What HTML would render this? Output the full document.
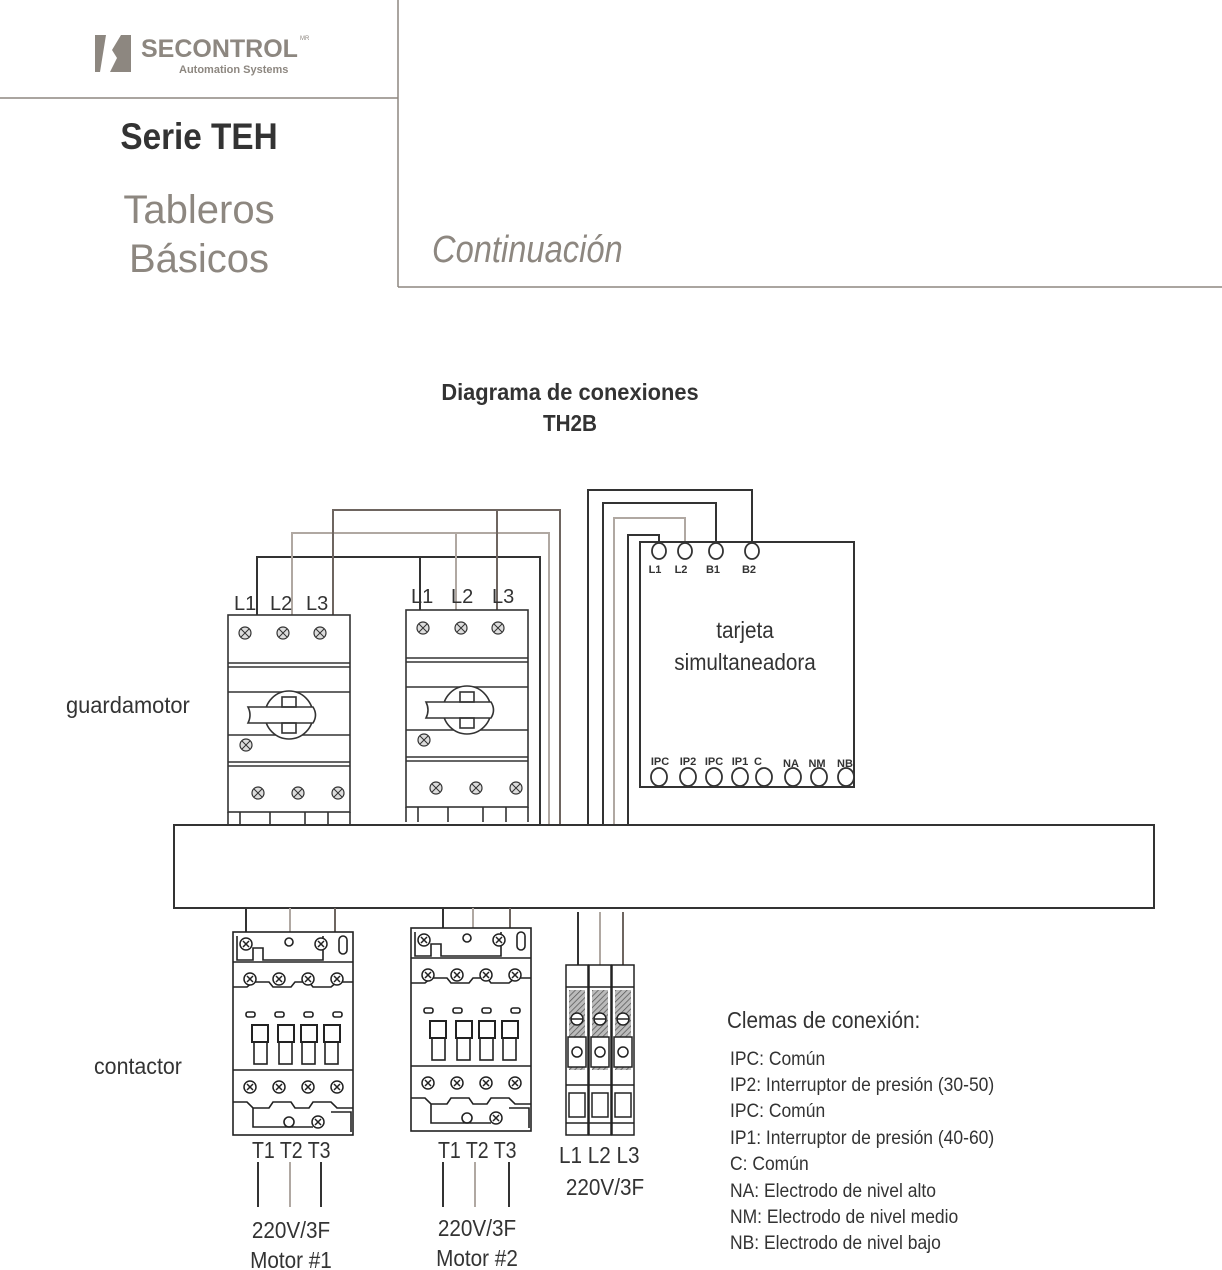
<!DOCTYPE html>
<html><head><meta charset="utf-8"><style>
html,body{margin:0;padding:0;background:#fff;}
svg{display:block;font-family:"Liberation Sans",sans-serif;}
</style></head><body>
<svg width="1222" height="1270" viewBox="0 0 1222 1270" xmlns="http://www.w3.org/2000/svg">
<defs>
<g id="scr"><circle r="6" fill="#ddd" stroke="#333" stroke-width="1.2"/><path d="M-4,-4L4,4M4,-4L-4,4" stroke="#333" stroke-width="1"/></g>
<g id="cscr"><circle r="6" fill="#fff" stroke="#222" stroke-width="1.5"/><path d="M-3,-3L3,3M3,-3L-3,3" stroke="#222" stroke-width="1.5"/></g>
<g id="gm" fill="none" stroke="#333" stroke-width="1.6">
<rect x="0" y="0" width="122" height="197" fill="#fff"/>
<path d="M0,48H122M0,52H122M0,77H122M0,120H122M0,147H122M0,151H122"/>
<path d="M0,197V212M122,197V212M12,197V212M42,197V212M77,197V212M100,197V212"/>
<circle cx="61" cy="100" r="24" fill="#fff"/>
<path d="M20,92H85Q90,100 85,108H20Q24,100 20,92Z" fill="#fff"/>
<rect x="54" y="82" width="14" height="10"/><rect x="54" y="108" width="14" height="10"/>
<use href="#scr" x="17" y="18"/><use href="#scr" x="55" y="18"/><use href="#scr" x="92" y="18"/>
<use href="#scr" x="30" y="178"/><use href="#scr" x="70" y="178"/><use href="#scr" x="110" y="178"/>
<use href="#scr" x="18" y="130"/>
</g>
<g id="ct" fill="none" stroke="#222" stroke-width="1.6">
<rect x="0" y="0" width="120" height="203" fill="#fff"/>
<path d="M4,4V28H20V16H30V28H90V4M0,30H120M0,55H14L20,50H36L40,55H58L62,50H76L80,55H98L104,50H120"/>
<use href="#cscr" x="13" y="12"/><use href="#cscr" x="88" y="12"/>
<circle cx="56" cy="10" r="4"/><rect x="106" y="4" width="8" height="18" rx="4"/>
<use href="#cscr" x="17" y="47"/><use href="#cscr" x="46" y="47"/><use href="#cscr" x="75" y="47"/><use href="#cscr" x="104" y="47"/>
<rect x="13" y="80" width="9" height="5" rx="2"/><rect x="42" y="80" width="9" height="5" rx="2"/><rect x="71" y="80" width="9" height="5" rx="2"/><rect x="100" y="80" width="9" height="5" rx="2"/>
<g stroke-width="2"><rect x="19" y="93" width="16" height="17"/><rect x="45" y="93" width="16" height="17"/><rect x="68" y="93" width="16" height="17"/><rect x="91" y="93" width="16" height="17"/></g>
<rect x="21" y="110" width="13" height="22"/><rect x="46" y="110" width="13" height="22"/><rect x="69" y="110" width="13" height="22"/><rect x="92" y="110" width="13" height="22"/>
<path d="M0,138H120"/>
<use href="#cscr" x="17" y="155"/><use href="#cscr" x="46" y="155"/><use href="#cscr" x="75" y="155"/><use href="#cscr" x="104" y="155"/>
<path d="M0,170H14L20,176H36L40,170H58L62,176H76L80,170H98L104,176H120M20,176V195H80M98,180H118V200"/>
<circle cx="56" cy="190" r="5"/><use href="#cscr" x="85" y="190"/>
</g>
<pattern id="hatch" width="4" height="4" patternUnits="userSpaceOnUse" patternTransform="rotate(45)"><rect width="4" height="4" fill="#bbb"/><path d="M0,0V4" stroke="#555" stroke-width="1.5"/></pattern>
<g id="tb" fill="none" stroke="#222" stroke-width="1.5">
<rect x="0" y="0" width="22" height="170" fill="#fff"/>
<path d="M0,22H22M0,120H22M0,158H22"/>
<rect x="3" y="25" width="16" height="80" fill="url(#hatch)" stroke="none"/>
<circle cx="11" cy="54" r="6" fill="#fff"/><path d="M5,54H17"/>
<rect x="2" y="72" width="18" height="30" fill="#fff"/>
<circle cx="11" cy="87" r="5"/>
<rect x="3" y="128" width="16" height="24"/>
</g>
</defs>

<g stroke="#8d8780" stroke-width="1.5" fill="none"><path d="M398,0V287M0,98H398M398,287H1222"/></g>
<path d="M95,35H106L100,72H95Z" fill="#8d8780"/>
<path d="M110,35H131V72H110L117,58L112,50L121,35Z" fill="#8d8780"/>
<text x="141" y="57" font-size="25" font-weight="bold" fill="#8d8780">SECONTROL</text>
<text x="300" y="40" font-size="6" fill="#8d8780">MR</text>
<text x="179" y="73" font-size="11" fill="#8d8780" font-weight="bold">Automation Systems</text>
<text x="199" y="149" font-size="37" font-weight="bold" text-anchor="middle" fill="#333" transform="translate(199,0) scale(0.9,1) translate(-199,0)">Serie TEH</text>
<text x="199" y="223" font-size="40" text-anchor="middle" fill="#8d8780">Tableros</text>
<text x="199" y="272" font-size="40" text-anchor="middle" fill="#8d8780">Básicos</text>
<text x="432" y="262" font-size="38" font-style="italic" fill="#8d8780" transform="translate(432,0) scale(0.86,1) translate(-432,0)">Continuación</text>

<text x="570" y="400" font-size="23" font-weight="bold" text-anchor="middle" fill="#333" transform="translate(570,0) scale(0.95,1) translate(-570,0)">Diagrama de conexiones</text>
<text x="570" y="431" font-size="23" font-weight="bold" text-anchor="middle" fill="#333" transform="translate(570,0) scale(0.9,1) translate(-570,0)">TH2B</text>

<g fill="none" stroke-width="2">
<path d="M257,615V557H540V825M420,610V557" stroke="#333"/>
<path d="M292,615V533H549V825M456,610V533" stroke="#b0a8a2"/>
<path d="M333,615V510H560V825M497,610V510" stroke="#6e6560"/>
<path d="M588,825V490H752V545" stroke="#333"/>
<path d="M603,825V503H716V545" stroke="#333"/>
<path d="M614,825V518H685V545" stroke="#b0a8a2"/>
<path d="M628,825V535H659V545" stroke="#333"/>
</g>

<use href="#gm" x="228" y="615"/>
<use href="#gm" x="406" y="610"/>
<g font-size="20" fill="#333">
<text x="234" y="610">L1</text><text x="270" y="610">L2</text><text x="306" y="610">L3</text>
<text x="411" y="603">L1</text><text x="451" y="603">L2</text><text x="492" y="603">L3</text>
</g>
<text x="66" y="713" font-size="23" fill="#333" transform="translate(66,0) scale(0.95,1) translate(-66,0)">guardamotor</text>

<rect x="640" y="542" width="214" height="245" fill="#fff" stroke="#333" stroke-width="2"/>
<g fill="#fff" stroke="#333" stroke-width="1.8">
<ellipse cx="659" cy="551" rx="7" ry="8"/><ellipse cx="685" cy="551" rx="7" ry="8"/><ellipse cx="716" cy="551" rx="7" ry="8"/><ellipse cx="752" cy="551" rx="7" ry="8"/>
<ellipse cx="659" cy="777" rx="8" ry="9"/><ellipse cx="688" cy="777" rx="8" ry="9"/><ellipse cx="714" cy="777" rx="8" ry="9"/><ellipse cx="740" cy="777" rx="8" ry="9"/><ellipse cx="764" cy="777" rx="8" ry="9"/><ellipse cx="793" cy="777" rx="8" ry="9"/><ellipse cx="819" cy="777" rx="8" ry="9"/><ellipse cx="846" cy="777" rx="8" ry="9"/>
</g>
<g font-size="11" font-weight="bold" fill="#333" text-anchor="middle">
<text x="655" y="573">L1</text><text x="681" y="573">L2</text><text x="713" y="573">B1</text><text x="749" y="573">B2</text>
<text x="660" y="765">IPC</text><text x="688" y="765">IP2</text><text x="714" y="765">IPC</text><text x="740" y="765">IP1</text><text x="758" y="765">C</text><text x="791" y="767">NA</text><text x="817" y="767">NM</text><text x="845" y="767">NB</text>
</g>
<text x="745" y="638" font-size="23" text-anchor="middle" fill="#333" transform="translate(745,0) scale(0.9,1) translate(-745,0)">tarjeta</text>
<text x="745" y="670" font-size="23" text-anchor="middle" fill="#333" transform="translate(745,0) scale(0.9,1) translate(-745,0)">simultaneadora</text>

<rect x="174" y="825" width="980" height="83" fill="#fff" stroke="#333" stroke-width="2"/>

<g fill="none" stroke-width="2">
<path d="M246,908V975M443,908V970M578,912V965" stroke="#333"/>
<path d="M290,908V960M473,908V945M600,912V965" stroke="#b0a8a2"/>
<path d="M335,908V955M510,908V955M623,912V965" stroke="#6e6560"/>
<path d="M258,1162V1207M321,1162V1207M443,1162V1207M509,1162V1207" stroke="#333"/>
<path d="M290,1162V1207M475,1162V1207" stroke="#b0a8a2"/>
</g>
<use href="#ct" x="233" y="932"/>
<use href="#ct" x="411" y="928"/>
<use href="#tb" x="566" y="965"/><use href="#tb" x="589" y="965"/><use href="#tb" x="612" y="965"/>
<g fill="#333" font-size="23">
<text x="252" y="1158" transform="translate(252,0) scale(0.85,1) translate(-252,0)">T1 T2 T3</text>
<text x="438" y="1158" transform="translate(438,0) scale(0.85,1) translate(-438,0)">T1 T2 T3</text>
<text x="559" y="1163" transform="translate(559,0) scale(0.9,1) translate(-559,0)">L1 L2 L3</text>
<text x="605" y="1195" text-anchor="middle" transform="translate(605,0) scale(0.9,1) translate(-605,0)">220V/3F</text>
<text x="291" y="1238" text-anchor="middle" transform="translate(291,0) scale(0.9,1) translate(-291,0)">220V/3F</text>
<text x="291" y="1268" text-anchor="middle" transform="translate(291,0) scale(0.9,1) translate(-291,0)">Motor #1</text>
<text x="477" y="1236" text-anchor="middle" transform="translate(477,0) scale(0.9,1) translate(-477,0)">220V/3F</text>
<text x="477" y="1266" text-anchor="middle" transform="translate(477,0) scale(0.9,1) translate(-477,0)">Motor #2</text>
<text x="94" y="1074" transform="translate(94,0) scale(0.93,1) translate(-94,0)">contactor</text>
<text x="727" y="1028" transform="translate(727,0) scale(0.9,1) translate(-727,0)">Clemas de conexión:</text>
</g>
<g fill="#333" font-size="19" transform="translate(730,0) scale(0.92,1) translate(-730,0)">
<text x="730" y="1065">IPC: Común</text>
<text x="730" y="1091">IP2: Interruptor de presión (30-50)</text>
<text x="730" y="1117">IPC: Común</text>
<text x="730" y="1144">IP1: Interruptor de presión (40-60)</text>
<text x="730" y="1170">C: Común</text>
<text x="730" y="1197">NA: Electrodo de nivel alto</text>
<text x="730" y="1223">NM: Electrodo de nivel medio</text>
<text x="730" y="1249">NB: Electrodo de nivel bajo</text>
</g>
</svg>
</body></html>
